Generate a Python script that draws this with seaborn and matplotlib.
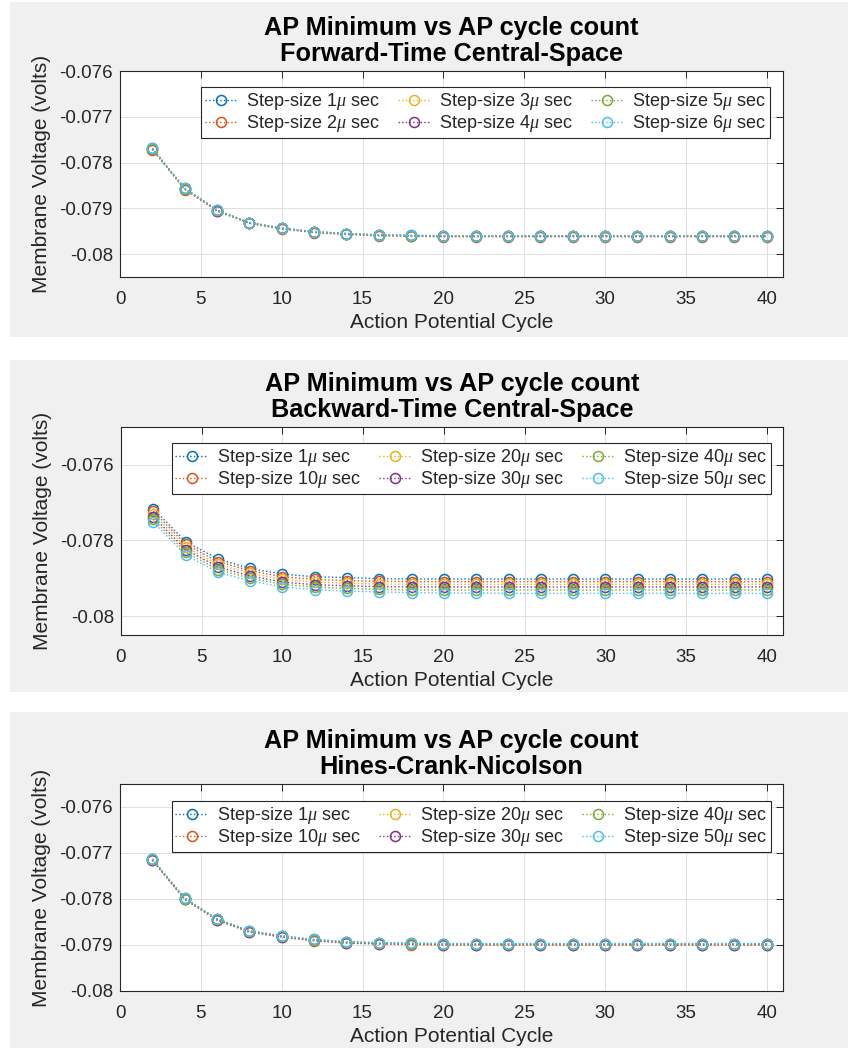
import numpy as np
import pandas as pd
import matplotlib
matplotlib.use("Agg")
import matplotlib.pyplot as plt
from matplotlib.patches import Rectangle
import seaborn as sns

sns.set_style("white")
plt.rcParams['font.family'] = ['Liberation Sans', 'DejaVu Sans']
plt.rcParams['mathtext.fontset'] = 'custom'
plt.rcParams['mathtext.it'] = 'Liberation Serif:italic'
plt.rcParams['mathtext.rm'] = 'Liberation Sans'

# ---------------- data ----------------
cycles = [2, 4, 6, 8, 10, 12, 14, 16, 18, 20, 22, 24, 26, 28, 30, 32, 34, 36, 38, 40]

colors = ['#0072BD', '#D95319', '#EDB120', '#7E2F8E', '#77AC30', '#4DBEEE']

ftcs_labels = [r'Step-size 1$\mu$ sec', r'Step-size 2$\mu$ sec', r'Step-size 3$\mu$ sec',
               r'Step-size 4$\mu$ sec', r'Step-size 5$\mu$ sec', r'Step-size 6$\mu$ sec']
ftcs_1us = [-0.07769, -0.07856, -0.07904, -0.07931, -0.07943, -0.07951, -0.07955, -0.07958, -0.07959, -0.07960,
            -0.07960, -0.07960, -0.07960, -0.07960, -0.07960, -0.07960, -0.07960, -0.07960, -0.07960, -0.07960]
ftcs_2us = [-0.07772, -0.07859, -0.07906, -0.07933, -0.07945, -0.07953, -0.07957, -0.07960, -0.07961, -0.07962,
            -0.07962, -0.07962, -0.07962, -0.07962, -0.07962, -0.07962, -0.07962, -0.07962, -0.07962, -0.07962]
ftcs_3us = [-0.07771, -0.07858, -0.07905, -0.07932, -0.07944, -0.07952, -0.07956, -0.07959, -0.07960, -0.07961,
            -0.07961, -0.07961, -0.07961, -0.07961, -0.07961, -0.07961, -0.07961, -0.07961, -0.07961, -0.07961]
ftcs_4us = [-0.07770, -0.07857, -0.07905, -0.07932, -0.07944, -0.07952, -0.07956, -0.07959, -0.07960, -0.07961,
            -0.07961, -0.07961, -0.07961, -0.07961, -0.07961, -0.07961, -0.07961, -0.07961, -0.07961, -0.07961]
ftcs_5us = [-0.07770, -0.07857, -0.07904, -0.07931, -0.07944, -0.07951, -0.07955, -0.07958, -0.07960, -0.07960,
            -0.07960, -0.07960, -0.07960, -0.07960, -0.07960, -0.07960, -0.07960, -0.07960, -0.07960, -0.07960]
ftcs_6us = [-0.07769, -0.07856, -0.07904, -0.07931, -0.07943, -0.07951, -0.07955, -0.07958, -0.07959, -0.07960,
            -0.07960, -0.07960, -0.07960, -0.07960, -0.07960, -0.07960, -0.07960, -0.07960, -0.07960, -0.07960]

btcs_labels = [r'Step-size 1$\mu$ sec', r'Step-size 10$\mu$ sec', r'Step-size 20$\mu$ sec',
               r'Step-size 30$\mu$ sec', r'Step-size 40$\mu$ sec', r'Step-size 50$\mu$ sec']
btcs_1us = [-0.07716, -0.07803, -0.07849, -0.07874, -0.07889, -0.07896, -0.07898, -0.07901, -0.07902, -0.07902,
            -0.07902, -0.07902, -0.07902, -0.07902, -0.07902, -0.07902, -0.07902, -0.07902, -0.07902, -0.07902]
btcs_10us = [-0.07723, -0.07810, -0.07856, -0.07880, -0.07896, -0.07903, -0.07906, -0.07908, -0.07909, -0.07909,
             -0.07909, -0.07909, -0.07909, -0.07909, -0.07909, -0.07909, -0.07909, -0.07909, -0.07909, -0.07909]
btcs_20us = [-0.07730, -0.07817, -0.07863, -0.07887, -0.07903, -0.07910, -0.07913, -0.07915, -0.07916, -0.07916,
             -0.07916, -0.07916, -0.07916, -0.07916, -0.07916, -0.07916, -0.07916, -0.07916, -0.07916, -0.07916]
btcs_30us = [-0.07737, -0.07824, -0.07870, -0.07894, -0.07910, -0.07917, -0.07920, -0.07922, -0.07923, -0.07923,
             -0.07923, -0.07923, -0.07923, -0.07923, -0.07923, -0.07923, -0.07923, -0.07923, -0.07923, -0.07923]
btcs_40us = [-0.07744, -0.07831, -0.07877, -0.07900, -0.07916, -0.07923, -0.07927, -0.07929, -0.07931, -0.07931,
             -0.07931, -0.07931, -0.07931, -0.07931, -0.07931, -0.07931, -0.07931, -0.07931, -0.07931, -0.07931]
btcs_50us = [-0.07752, -0.07838, -0.07884, -0.07907, -0.07923, -0.07930, -0.07934, -0.07936, -0.07938, -0.07939,
             -0.07939, -0.07940, -0.07940, -0.07940, -0.07940, -0.07940, -0.07940, -0.07940, -0.07940, -0.07940]

hcn_labels = btcs_labels
hcn_1us = [-0.07713, -0.07798, -0.07843, -0.07869, -0.07880, -0.07888, -0.07893, -0.07895, -0.07896, -0.07897,
           -0.07897, -0.07897, -0.07897, -0.07897, -0.07897, -0.07897, -0.07897, -0.07897, -0.07897, -0.07897]
hcn_10us = [-0.07716, -0.07801, -0.07846, -0.07872, -0.07883, -0.07891, -0.07896, -0.07898, -0.07899, -0.07900,
            -0.07900, -0.07900, -0.07900, -0.07900, -0.07900, -0.07900, -0.07900, -0.07900, -0.07900, -0.07900]
hcn_20us = [-0.07715, -0.07800, -0.07845, -0.07871, -0.07882, -0.07890, -0.07895, -0.07897, -0.07898, -0.07899,
            -0.07899, -0.07899, -0.07899, -0.07899, -0.07899, -0.07899, -0.07899, -0.07899, -0.07899, -0.07899]
hcn_30us = [-0.07715, -0.07800, -0.07845, -0.07871, -0.07882, -0.07890, -0.07895, -0.07897, -0.07898, -0.07899,
            -0.07899, -0.07899, -0.07899, -0.07899, -0.07899, -0.07899, -0.07899, -0.07899, -0.07899, -0.07899]
hcn_40us = [-0.07714, -0.07799, -0.07844, -0.07870, -0.07881, -0.07889, -0.07894, -0.07896, -0.07897, -0.07898,
            -0.07898, -0.07898, -0.07898, -0.07898, -0.07898, -0.07898, -0.07898, -0.07898, -0.07898, -0.07898]
hcn_50us = [-0.07713, -0.07798, -0.07843, -0.07869, -0.07880, -0.07888, -0.07893, -0.07895, -0.07896, -0.07897,
            -0.07897, -0.07897, -0.07897, -0.07897, -0.07897, -0.07897, -0.07897, -0.07897, -0.07897, -0.07897]

x_ticks = [0, 5, 10, 15, 20, 25, 30, 35, 40]
ftcs_yticks = [-0.080, -0.079, -0.078, -0.077, -0.076]
btcs_yticks = [-0.080, -0.078, -0.076]
hcn_yticks = [-0.080, -0.079, -0.078, -0.077, -0.076]
ytick_fmt = {-0.080: '-0.08', -0.079: '-0.079', -0.078: '-0.078', -0.077: '-0.077', -0.076: '-0.076'}

panels = [
    dict(title='AP Minimum vs AP cycle count\nForward-Time Central-Space', labels=ftcs_labels,
         series=[ftcs_1us, ftcs_2us, ftcs_3us, ftcs_4us, ftcs_5us, ftcs_6us],
         ylim=(-0.0805, -0.076), yticks=ftcs_yticks,
         box=(10, 2, 848, 337), axes=(120, 71, 783, 277), leg=(770, 87)),
    dict(title='AP Minimum vs AP cycle count\nBackward-Time Central-Space', labels=btcs_labels,
         series=[btcs_1us, btcs_10us, btcs_20us, btcs_30us, btcs_40us, btcs_50us],
         ylim=(-0.0805, -0.075), yticks=btcs_yticks,
         box=(10, 360, 848, 692), axes=(121, 427, 783, 635), leg=(771, 443)),
    dict(title='AP Minimum vs AP cycle count\nHines-Crank-Nicolson', labels=hcn_labels,
         series=[hcn_1us, hcn_10us, hcn_20us, hcn_30us, hcn_40us, hcn_50us],
         ylim=(-0.080, -0.0755), yticks=hcn_yticks,
         box=(10, 712, 848, 1048), axes=(120, 784, 783, 991), leg=(771, 801)),
]

W, H = 855, 1048
fig = plt.figure(figsize=(W / 100, H / 100), dpi=100, facecolor='white')

ink = '#262626'
for p in panels:
    x0, y0, x1, y1 = p['box']
    fig.add_artist(Rectangle((x0 / W, 1 - y1 / H), (x1 - x0) / W, (y1 - y0) / H,
                             transform=fig.transFigure, facecolor='#F0F0F0', edgecolor='none', zorder=-10))
    l, t, r, b = p['axes']
    ax = fig.add_axes([l / W, 1 - b / H, (r - l) / W, (b - t) / H])
    ax.set_facecolor('white')

    df = pd.DataFrame({
        'cycle': np.tile(cycles, len(p['series'])),
        'v': np.concatenate([np.asarray(s) for s in p['series']]),
        'series': np.repeat(p['labels'], len(cycles)),
    })
    sns.lineplot(data=df, x='cycle', y='v', hue='series', hue_order=p['labels'], palette=colors,
                 marker='o', linestyle=':', linewidth=1.0, markersize=7.2, estimator=None, sort=False,
                 legend=False, ax=ax)
    for line in ax.lines:
        c = line.get_color()
        line.set_markerfacecolor('none')
        line.set_markeredgecolor(c)
        line.set_markeredgewidth(1.1)
        line.set_linestyle(':')

    ax.set_xlim(0, 41)
    ax.set_ylim(*p['ylim'])
    ax.set_xticks(x_ticks)
    ax.set_yticks(p['yticks'])
    ax.set_yticklabels([ytick_fmt[v] for v in p['yticks']])
    ax.grid(True, color='#DFDFDF', linewidth=0.7)
    ax.set_axisbelow(True)
    for sp in ax.spines.values():
        sp.set_color(ink)
        sp.set_linewidth(0.8)
        sp.set_visible(True)
    ax.tick_params(direction='in', top=True, right=True, length=5, width=0.7, colors=ink,
                   labelsize=13.5, pad=10)
    ax.tick_params(axis='y', pad=5)
    ax.set_xlabel('Action Potential Cycle', fontsize=15, color=ink, labelpad=4)
    ax.set_ylabel('Membrane Voltage (volts)', fontsize=15, color=ink, labelpad=6)
    ax.set_title(p['title'], fontsize=18.2, fontweight='bold', color='black', pad=7, linespacing=1.1)

    lx, ly = p['leg']
    leg = ax.legend(ax.lines, p['labels'], ncol=3, loc='upper right',
                    bbox_to_anchor=((lx - l) / (r - l), 1 - (ly - t) / (b - t)),
                    borderaxespad=0, fontsize=13, frameon=True, fancybox=False, framealpha=1,
                    edgecolor=ink, handlelength=1.8, handletextpad=0.5, columnspacing=1.0,
                    labelspacing=0.08, borderpad=0.22)
    leg.get_frame().set_linewidth(0.8)

fig.savefig('out.png', dpi=100, facecolor=fig.get_facecolor())
